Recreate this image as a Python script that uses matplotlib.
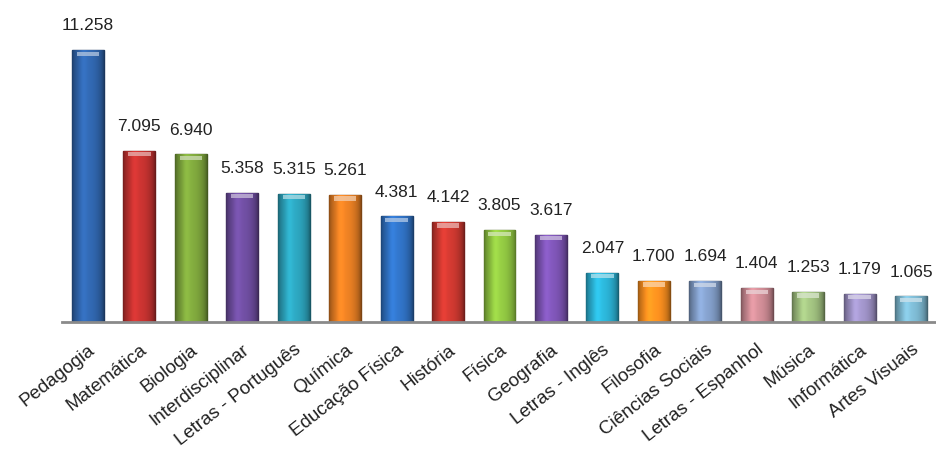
import matplotlib.pyplot as plt
import matplotlib.colors as mcolors
import numpy as np

cursos = ["Pedagogia", "Matemática", "Biologia", "Interdisciplinar",
          "Letras - Português", "Química", "Educação Física", "História",
          "Física", "Geografia", "Letras - Inglês", "Filosofia",
          "Ciências Sociais", "Letras - Espanhol", "Música", "Informática",
          "Artes Visuais"]
valores = [11.258, 7.095, 6.940, 5.358, 5.315, 5.261, 4.381, 4.142,
           3.805, 3.617, 2.047, 1.700, 1.694, 1.404, 1.253, 1.179, 1.065]
rotulos = ["11.258", "7.095", "6.940", "5.358", "5.315", "5.261", "4.381",
           "4.142", "3.805", "3.617", "2.047", "1.700", "1.694", "1.404",
           "1.253", "1.179", "1.065"]
cores = ["#2f63a9", "#c0312f", "#7ba23b", "#6b4b9b", "#2b9fb7", "#e17b22",
         "#2f6fbf", "#c8372f", "#8cc040", "#7a52b0", "#2aaed0", "#f48c1e",
         "#7f9ac4", "#c98891", "#9cbb7c", "#9b8fc2", "#7ab4cc"]

fonte = ["Liberation Sans", "DejaVu Sans"]

fig = plt.figure(figsize=(9.36, 4.68), dpi=100)
ax = fig.add_axes([62 / 936, 146 / 468, 874 / 936, 322 / 468])

x = np.arange(len(cursos))
w = 0.62
# perfil horizontal do brilho (bordas escuras, centro claro)
t = np.linspace(0, 1, 40)
perfil = 0.62 + 0.45 * np.sin(np.pi * t) ** 0.6 + 0.12 * np.exp(-((t - 0.35) / 0.12) ** 2)

for i, (v, c) in enumerate(zip(valores, cores)):
    base = np.array(mcolors.to_rgb(c))
    grad = np.clip(base[None, :] * perfil[:, None], 0, 1)[None, :, :]
    barra = ax.bar(i, v, width=w, color=c, edgecolor=tuple(base * 0.55),
                   linewidth=1.0, zorder=2)[0]
    im = ax.imshow(grad, extent=[i - w / 2, i + w / 2, 0, v], aspect="auto",
                   interpolation="bicubic", zorder=2.5)
    im.set_clip_path(barra)
    # topo claro
    claro = tuple(base * 0.4 + 0.6)
    ax.bar(i, 0.18, bottom=v - 0.24, width=w * 0.7, color=claro, alpha=0.8,
           linewidth=0, zorder=3)
    ax.annotate(rotulos[i], (i, v), xytext=(0, 12), textcoords="offset points",
                ha="center", va="bottom", fontsize=12.5, family=fonte,
                color="#222222")

ax.set_xlim(-0.505, 16.486)
ax.set_ylim(0, 13.33)
ax.set_xticks(x)
ax.set_xticklabels(cursos, rotation=38, ha="right", rotation_mode="anchor",
                   fontsize=13.5, family=fonte, color="#222222")
ax.tick_params(axis="x", length=0, pad=14)
ax.set_yticks([])
for s in ["top", "right", "left"]:
    ax.spines[s].set_visible(False)
ax.spines["bottom"].set_color("#8a8a8a")
ax.spines["bottom"].set_linewidth(2)

fig.savefig("out.png", dpi=100)
